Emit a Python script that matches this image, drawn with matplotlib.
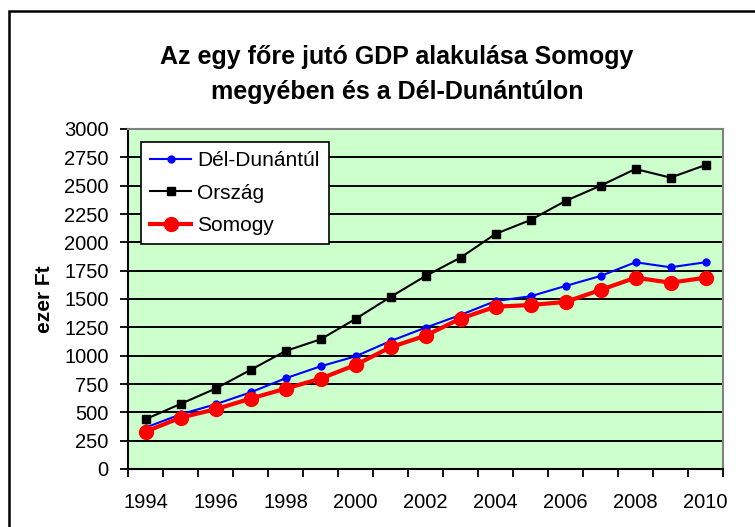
import numpy as np
import matplotlib
matplotlib.use('Agg')
import matplotlib.pyplot as plt
from matplotlib.patches import Rectangle

plt.rcParams['font.family'] = ['Liberation Sans', 'DejaVu Sans']

# data (ezer Ft per fő)
years = list(range(1994, 2011))
del_dunantul = [365, 482, 571, 676, 800, 906, 994, 1129, 1247, 1359, 1482, 1524, 1615, 1703, 1824, 1780, 1824]
orszag = [439, 574, 709, 874, 1041, 1144, 1324, 1518, 1703, 1865, 2074, 2197, 2365, 2500, 2647, 2571, 2682]
somogy = [329, 453, 527, 621, 709, 797, 918, 1074, 1177, 1327, 1432, 1447, 1474, 1580, 1688, 1644, 1688]
title_lines = ['Az egy főre jutó GDP alakulása Somogy', 'megyében és a Dél-Dunántúlon']

W, H = 755, 527
fig = plt.figure(figsize=(W / 100, H / 100), dpi=100)
fig.patch.set_facecolor('white')

# outer chart frame (cropped on right and bottom in the original)
fig.patches.append(Rectangle((8.5 / W, -0.2), 1.2, 1.2 - 11 / H,
                             transform=fig.transFigure, fill=False,
                             edgecolor='black', linewidth=1.8, zorder=0))

ax = fig.add_axes([128 / W, 1 - 469 / H, (723 - 128) / W, (469 - 129) / H])
ax.set_facecolor('#CCFFCC')

x = np.arange(len(years))
ax.plot(x, del_dunantul, color='#0000FF', lw=1.5, marker='o', ms=5, label='Dél-Dunántúl', zorder=3)
ax.plot(x, orszag, color='black', lw=1.5, marker='s', ms=5.5, label='Ország', zorder=3)
ax.plot(x, somogy, color='#FF0000', lw=3, marker='o', ms=10, label='Somogy', zorder=4)

ax.set_xlim(-0.5, len(years) - 0.5)
ax.set_ylim(0, 3000)
ax.set_yticks(np.arange(0, 3001, 250))
ax.set_xticks(x[::2])
ax.set_xticklabels([str(y) for y in years[::2]])
ax.set_xticks(np.arange(-0.5, len(years), 1), minor=True)
ax.tick_params(axis='x', which='major', length=0, pad=17, labelsize=14.5)
ax.tick_params(axis='x', which='minor', length=6, width=1.3, direction='out')
ax.tick_params(axis='y', length=6, width=1.3, direction='out', pad=8, labelsize=14.5)

ax.grid(axis='y', color='black', lw=1.4)
ax.set_axisbelow(True)
for side in ['left', 'bottom']:
    ax.spines[side].set_color('black')
    ax.spines[side].set_linewidth(1.5)
for side in ['top', 'right']:
    ax.spines[side].set_color('#808080')
    ax.spines[side].set_linewidth(1.5)

ax.set_ylabel('ezer Ft', fontsize=15, fontweight='bold', labelpad=7)

fig.text(397 / W, 1 - 74.5 / H, '\n'.join(title_lines), ha='center', va='center',
         fontsize=18, fontweight='bold', linespacing=1.62)

leg = ax.legend(loc='upper left', bbox_to_anchor=(141 / W, 1 - 142 / H),
                bbox_transform=fig.transFigure, fontsize=15, frameon=True,
                fancybox=False, edgecolor='black', framealpha=1,
                handlelength=1.95, handletextpad=0.3, labelspacing=0.64,
                borderpad=0.45, borderaxespad=0)
leg.get_frame().set_linewidth(1.2)

fig.savefig('out.png', dpi=100)
